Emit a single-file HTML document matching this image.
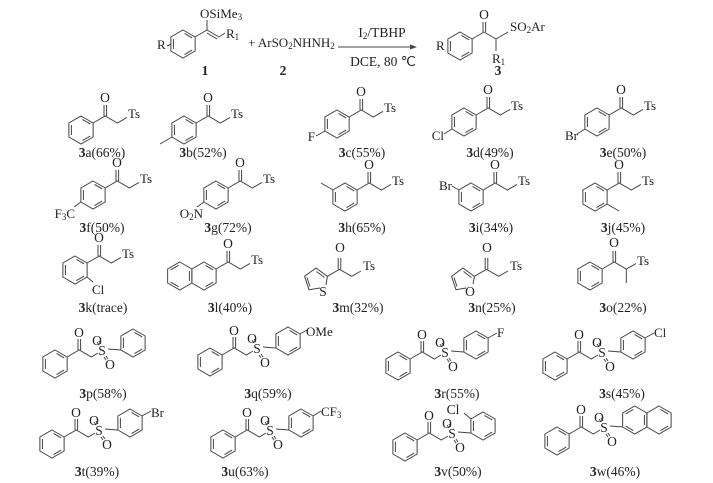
<!DOCTYPE html>
<html><head><meta charset="utf-8"><style>
html,body{margin:0;padding:0;background:#fff;}
svg{display:block;}
text{font-family:"Liberation Serif",serif;fill:#222;font-size:13px;}
.lb{text-anchor:middle;font-size:13.5px;}
.b{font-weight:bold;}
.s{font-size:9px;}
</style></head><body>
<svg width="713" height="483" viewBox="0 0 713 483" xmlns="http://www.w3.org/2000/svg">
<defs>
<g id="bz" fill="none" stroke="#444" stroke-width="1">
<polygon points="0,-14 12.12,-7 12.12,7 0,14 -12.12,7 -12.12,-7"/>
<line x1="1.5" y1="-10.6" x2="9.2" y2="-6.1"/>
<line x1="9.2" y1="6.1" x2="1.5" y2="10.6"/>
<line x1="-9.6" y1="5" x2="-9.6" y2="-5"/>
</g>
<g id="ac" fill="none" stroke="#444" stroke-width="1">
<polyline points="12.12,-7 24.24,-14 36.36,-7 46,-12.6"/>
<line x1="23" y1="-14" x2="23" y2="-25"/>
<line x1="25.6" y1="-14" x2="25.6" y2="-25"/>
</g>
<g id="su" fill="none" stroke="#444" stroke-width="1">
<polyline points="12.12,-7 24.24,-14 36.36,-7 43,-11"/>
<line x1="23" y1="-14" x2="23" y2="-25"/>
<line x1="25.6" y1="-14" x2="25.6" y2="-25"/>
<line x1="53" y1="-15" x2="66" y2="-14"/>
<line x1="44" y1="-19" x2="42" y2="-22"/>
<line x1="46" y1="-20" x2="44" y2="-23"/>
<line x1="49" y1="-7" x2="51" y2="-4"/>
<line x1="51" y1="-8" x2="53" y2="-5"/>
</g>
<g id="np" fill="none" stroke="#444" stroke-width="1">
<polygon points="0,-14 12.12,-7 12.12,7 0,14 -12.12,7 -12.12,-7"/>
<polygon points="-24.24,-14 -12.12,-7 -12.12,7 -24.24,14 -36.36,7 -36.36,-7"/>
<line x1="1.5" y1="-10.6" x2="9.2" y2="-6.1"/>
<line x1="9.2" y1="6.1" x2="1.5" y2="10.6"/>
<line x1="-25.7" y1="-10.6" x2="-33.4" y2="-6.1"/>
<line x1="-33.4" y1="6.1" x2="-25.7" y2="10.6"/>
<line x1="-14.6" y1="5" x2="-14.6" y2="-5"/>
</g>
</defs>

<!-- Reaction -->
<use href="#bz" x="183" y="44"/>
<g fill="none" stroke="#444" stroke-width="1">
<line x1="195" y1="37" x2="207" y2="30"/>
<line x1="207" y1="30" x2="207" y2="20"/>
<line x1="207" y1="30" x2="219" y2="37"/>
<line x1="207" y1="33" x2="217" y2="39"/>
<line x1="219" y1="37" x2="225" y2="33"/>
<line x1="167" y1="46" x2="171" y2="44"/>
<line x1="338" y1="47" x2="412" y2="47"/>
<line x1="472" y1="39" x2="484" y2="32"/>
<line x1="483" y1="32" x2="483" y2="22"/>
<line x1="485.6" y1="32" x2="485.6" y2="22"/>
<line x1="484" y1="32" x2="496" y2="39"/>
<line x1="496" y1="39" x2="508" y2="32"/>
<line x1="496" y1="39" x2="496" y2="51"/>
</g>
<polygon points="417,47 410,44.5 410,49.5" fill="#444"/>
<text x="157" y="49">R</text>
<text x="200" y="18">OSiMe<tspan class="s" dy="2">3</tspan></text>
<text x="226" y="38">R<tspan class="s" dy="2">1</tspan></text>
<text x="248" y="47">+ ArSO<tspan class="s" dy="2">2</tspan><tspan dy="-2">NHNH</tspan><tspan class="s" dy="2">2</tspan></text>
<text x="382" y="37" class="lb">I<tspan class="s" dy="2">2</tspan><tspan dy="-2">/TBHP</tspan></text>
<text x="383" y="66" class="lb">DCE, 80 ℃</text>
<use href="#bz" x="460" y="46"/>
<text x="436" y="50">R</text>
<text x="484" y="19" class="lb">O</text>
<text x="510" y="31">SO<tspan class="s" dy="2">2</tspan><tspan dy="-2">Ar</tspan></text>
<text x="492" y="63">R<tspan class="s" dy="2">1</tspan></text>
<text x="205" y="75" class="lb b">1</text>
<text x="283" y="75" class="lb b">2</text>
<text x="498" y="75" class="lb b">3</text>

<!-- Row 1 -->
<use href="#bz" x="81" y="130"/><use href="#ac" x="81" y="130"/>
<text x="105" y="102" class="lb">O</text><text x="128" y="118">Ts</text>
<text x="102" y="157" class="lb"><tspan class="b">3</tspan>a(66%)</text>

<use href="#bz" x="184" y="130"/><use href="#ac" x="184" y="130"/>
<line x1="172" y1="137" x2="160" y2="144" stroke="#444"/>
<text x="208" y="102" class="lb">O</text><text x="231" y="118">Ts</text>
<text x="203" y="157" class="lb"><tspan class="b">3</tspan>b(52%)</text>

<use href="#bz" x="337" y="124"/><use href="#ac" x="337" y="124"/>
<line x1="325" y1="131" x2="316" y2="136" stroke="#444"/>
<text x="315" y="141" text-anchor="end">F</text>
<text x="361" y="96" class="lb">O</text><text x="384" y="112">Ts</text>
<text x="362" y="157" class="lb"><tspan class="b">3</tspan>c(55%)</text>

<use href="#bz" x="464" y="122"/><use href="#ac" x="464" y="122"/>
<line x1="452" y1="129" x2="444" y2="134" stroke="#444"/>
<text x="444" y="140" text-anchor="end">Cl</text>
<text x="488" y="94" class="lb">O</text><text x="511" y="110">Ts</text>
<text x="490" y="157" class="lb"><tspan class="b">3</tspan>d(49%)</text>

<use href="#bz" x="597" y="122"/><use href="#ac" x="597" y="122"/>
<line x1="585" y1="129" x2="577" y2="134" stroke="#444"/>
<text x="578" y="140" text-anchor="end">Br</text>
<text x="621" y="94" class="lb">O</text><text x="644" y="110">Ts</text>
<text x="623" y="157" class="lb"><tspan class="b">3</tspan>e(50%)</text>

<!-- Row 2 -->
<use href="#bz" x="93" y="195"/><use href="#ac" x="93" y="195"/>
<line x1="81" y1="202" x2="74" y2="207" stroke="#444"/>
<text x="75" y="218" text-anchor="end">F<tspan class="s" dy="2">3</tspan><tspan dy="-2">C</tspan></text>
<text x="117" y="167" class="lb">O</text><text x="140" y="183">Ts</text>
<text x="102" y="232" class="lb"><tspan class="b">3</tspan>f(50%)</text>

<use href="#bz" x="216" y="195"/><use href="#ac" x="216" y="195"/>
<line x1="204" y1="202" x2="197" y2="207" stroke="#444"/>
<text x="203" y="218" text-anchor="end">O<tspan class="s" dy="2">2</tspan><tspan dy="-2">N</tspan></text>
<text x="240" y="167" class="lb">O</text><text x="263" y="183">Ts</text>
<text x="228" y="232" class="lb"><tspan class="b">3</tspan>g(72%)</text>

<use href="#bz" x="345" y="197"/><use href="#ac" x="345" y="197"/>
<line x1="333" y1="190" x2="321" y2="183" stroke="#444"/>
<text x="369" y="169" class="lb">O</text><text x="392" y="185">Ts</text>
<text x="362" y="232" class="lb"><tspan class="b">3</tspan>h(65%)</text>

<use href="#bz" x="471" y="197"/><use href="#ac" x="471" y="197"/>
<line x1="459" y1="190" x2="452" y2="186" stroke="#444"/>
<text x="452" y="190" text-anchor="end">Br</text>
<text x="495" y="169" class="lb">O</text><text x="518" y="185">Ts</text>
<text x="491" y="232" class="lb"><tspan class="b">3</tspan>i(34%)</text>

<use href="#bz" x="595" y="197"/><use href="#ac" x="595" y="197"/>
<line x1="607" y1="204" x2="619" y2="211" stroke="#444"/>
<text x="619" y="169" class="lb">O</text><text x="642" y="185">Ts</text>
<text x="623" y="232" class="lb"><tspan class="b">3</tspan>j(45%)</text>

<!-- Row 3 -->
<use href="#bz" x="75" y="270"/><use href="#ac" x="75" y="270"/>
<line x1="87" y1="277" x2="93" y2="282" stroke="#444"/>
<text x="92" y="294">Cl</text>
<text x="99" y="242" class="lb">O</text><text x="122" y="258">Ts</text>
<text x="103" y="312" class="lb"><tspan class="b">3</tspan>k(trace)</text>

<use href="#np" x="204" y="276"/><use href="#ac" x="204" y="276"/>
<text x="228" y="248" class="lb">O</text><text x="251" y="264">Ts</text>
<text x="230" y="312" class="lb"><tspan class="b">3</tspan>l(40%)</text>

<g fill="none" stroke="#444" stroke-width="1">
<polyline points="320,288 309,289.7 304.6,276.3 316,268 327.4,276.3 326,285"/>
<line x1="310" y1="286.5" x2="307" y2="277.5"/>
<line x1="316.5" y1="271.5" x2="324.5" y2="277.5"/>
<polyline points="327.4,276.3 339.5,269.3 351.6,276.3 361,271"/>
<line x1="338.2" y1="269.3" x2="338.2" y2="258"/>
<line x1="340.8" y1="269.3" x2="340.8" y2="258"/>
</g>
<text x="323" y="296" class="lb">S</text>
<text x="340" y="252" class="lb">O</text><text x="363" y="270">Ts</text>
<text x="358" y="312" class="lb"><tspan class="b">3</tspan>m(32%)</text>

<g fill="none" stroke="#444" stroke-width="1">
<polyline points="466,288 456,289.7 451.6,276.3 463,268 474.4,276.3 473,284"/>
<line x1="457" y1="286.5" x2="454" y2="277.5"/>
<line x1="463.5" y1="271.5" x2="471.5" y2="277.5"/>
<polyline points="474.4,276.3 486.5,269.3 498.6,276.3 508,271"/>
<line x1="485.2" y1="269.3" x2="485.2" y2="258"/>
<line x1="487.8" y1="269.3" x2="487.8" y2="258"/>
</g>
<text x="470" y="296" class="lb">O</text>
<text x="487" y="252" class="lb">O</text><text x="510" y="270">Ts</text>
<text x="492" y="312" class="lb"><tspan class="b">3</tspan>n(25%)</text>

<use href="#bz" x="590" y="276"/>
<g fill="none" stroke="#444" stroke-width="1">
<polyline points="602.1,269 614.2,262 626.3,269 636,263.5"/>
<line x1="613" y1="262" x2="613" y2="251"/>
<line x1="615.6" y1="262" x2="615.6" y2="251"/>
<line x1="626.3" y1="269" x2="626.3" y2="283"/>
</g>
<text x="614" y="247" class="lb">O</text><text x="637" y="265">Ts</text>
<text x="623" y="312" class="lb"><tspan class="b">3</tspan>o(22%)</text>

<!-- Row 4 -->
<use href="#bz" x="55" y="364"/><use href="#su" x="55" y="364"/><use href="#bz" x="133" y="343"/>
<text x="79" y="337" class="lb">O</text><text x="102" y="355" class="lb">S</text>
<text x="97" y="345" class="lb">O</text><text x="110" y="369" class="lb">O</text>
<text x="103" y="398" class="lb"><tspan class="b">3</tspan>p(58%)</text>

<use href="#bz" x="210" y="362"/><use href="#su" x="210" y="362"/><use href="#bz" x="288" y="341"/>
<line x1="300" y1="334" x2="307" y2="330" stroke="#444"/>
<text x="306" y="336">OMe</text>
<text x="234" y="335" class="lb">O</text><text x="257" y="353" class="lb">S</text>
<text x="252" y="343" class="lb">O</text><text x="265" y="367" class="lb">O</text>
<text x="268" y="398" class="lb"><tspan class="b">3</tspan>q(59%)</text>

<use href="#bz" x="398" y="366"/><use href="#su" x="398" y="366"/><use href="#bz" x="476" y="345"/>
<line x1="488" y1="338" x2="497" y2="333" stroke="#444"/>
<text x="497" y="337">F</text>
<text x="422" y="339" class="lb">O</text><text x="445" y="357" class="lb">S</text>
<text x="440" y="347" class="lb">O</text><text x="453" y="371" class="lb">O</text>
<text x="457" y="398" class="lb"><tspan class="b">3</tspan>r(55%)</text>

<use href="#bz" x="555" y="366"/><use href="#su" x="555" y="366"/><use href="#bz" x="633" y="345"/>
<line x1="645" y1="338" x2="654" y2="333" stroke="#444"/>
<text x="654" y="337">Cl</text>
<text x="579" y="339" class="lb">O</text><text x="602" y="357" class="lb">S</text>
<text x="597" y="347" class="lb">O</text><text x="610" y="371" class="lb">O</text>
<text x="622" y="398" class="lb"><tspan class="b">3</tspan>s(45%)</text>

<!-- Row 5 -->
<use href="#bz" x="52" y="444"/><use href="#su" x="52" y="444"/><use href="#bz" x="130" y="423"/>
<line x1="142" y1="416" x2="151" y2="411" stroke="#444"/>
<text x="151" y="417">Br</text>
<text x="76" y="417" class="lb">O</text><text x="99" y="435" class="lb">S</text>
<text x="94" y="425" class="lb">O</text><text x="107" y="449" class="lb">O</text>
<text x="97" y="476" class="lb"><tspan class="b">3</tspan>t(39%)</text>

<use href="#bz" x="223" y="444"/><use href="#su" x="223" y="444"/><use href="#bz" x="301" y="423"/>
<line x1="313" y1="416" x2="321" y2="411" stroke="#444"/>
<text x="321" y="416">CF<tspan class="s" dy="2">3</tspan></text>
<text x="247" y="417" class="lb">O</text><text x="270" y="435" class="lb">S</text>
<text x="265" y="425" class="lb">O</text><text x="278" y="449" class="lb">O</text>
<text x="245" y="476" class="lb"><tspan class="b">3</tspan>u(63%)</text>

<use href="#bz" x="405" y="447"/><use href="#su" x="405" y="447"/><use href="#bz" x="483" y="426"/>
<line x1="471" y1="419" x2="464" y2="413" stroke="#444"/>
<text x="453" y="414" class="lb">Cl</text>
<text x="429" y="420" class="lb">O</text><text x="452" y="438" class="lb">S</text>
<text x="447" y="428" class="lb">O</text><text x="460" y="452" class="lb">O</text>
<text x="458" y="476" class="lb"><tspan class="b">3</tspan>v(50%)</text>

<use href="#bz" x="557" y="441"/><use href="#su" x="557" y="441"/><use href="#np" x="659" y="420"/>
<text x="581" y="414" class="lb">O</text><text x="604" y="432" class="lb">S</text>
<text x="599" y="422" class="lb">O</text><text x="612" y="446" class="lb">O</text>
<text x="615" y="476" class="lb"><tspan class="b">3</tspan>w(46%)</text>
</svg>
</body></html>
